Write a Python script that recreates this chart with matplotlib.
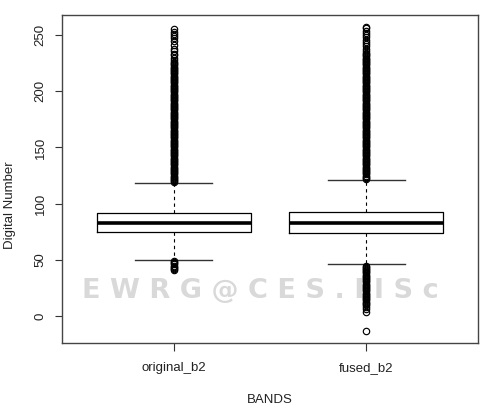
import matplotlib
matplotlib.use("Agg")
import matplotlib.pyplot as plt

categories = ["original_b2", "fused_b2"]
q1 = [74.7, 74.1]
median = [83.0, 83.0]
q3 = [92.2, 92.8]
whisker_low = [50, 46]
whisker_high = [118, 121]

orig_upper_outliers = [119, 120, 121, 122, 123, 124, 125, 126, 127, 128, 129, 130, 131, 132, 133,
                       134, 135, 136, 137, 138, 139, 140, 141, 142, 143, 144, 145, 146, 147, 148,
                       149, 150, 151, 152, 153, 154, 155, 156, 157, 158, 159, 160, 161, 162, 163,
                       164, 165, 166, 167, 168, 169, 170, 171, 172, 173, 174, 175, 176, 177, 178,
                       179, 180, 181, 182, 183, 184, 185, 186, 187, 188, 189, 190, 191, 192, 193,
                       194, 195, 196, 197, 198, 199, 200, 201, 202, 203, 204, 205, 206, 207, 208,
                       209, 210, 211, 212, 213, 214, 215, 216, 217, 218, 219, 220, 221, 222, 223,
                       224, 225, 226, 228, 230, 232, 233, 236, 238, 241, 245, 247, 249, 251, 253, 255]
orig_lower_outliers = [41, 42, 43, 44, 45, 46, 47, 48, 49]

fused_upper_outliers = [122, 123, 124, 125, 126, 127, 128, 129, 130, 131, 132, 133, 134, 135, 136,
                        137, 138, 139, 140, 141, 142, 143, 144, 145, 146, 147, 148, 149, 150, 151,
                        152, 153, 154, 155, 156, 157, 158, 159, 160, 161, 162, 163, 164, 165, 166,
                        167, 168, 169, 170, 171, 172, 173, 174, 175, 176, 177, 178, 179, 180, 181,
                        182, 183, 184, 185, 186, 187, 188, 189, 190, 191, 192, 193, 194, 195, 196,
                        197, 198, 199, 200, 201, 202, 203, 204, 205, 206, 207, 208, 209, 210, 211,
                        212, 213, 214, 215, 216, 217, 218, 219, 220, 221, 222, 223, 224, 225, 226,
                        227, 228, 229, 230, 231, 232, 233, 234, 236, 238, 240, 242, 244, 246, 248,
                        250, 252, 254, 256, 257]
fused_lower_outliers = [-13, 4, 6, 8, 10, 11, 12, 13, 14, 15, 16, 17, 18, 19, 20, 21, 22, 23, 24, 25,
                        26, 27, 28, 29, 30, 31, 32, 33, 34, 35, 36, 37, 38, 39, 40, 41, 42, 43, 44, 45]

yticks = [0, 50, 100, 150, 200, 250]
xlabel = "BANDS"
ylabel = "Digital Number"
watermark = "E W R G @ C E S . I I S c"

plt.rcParams['font.family'] = ['Liberation Sans', 'DejaVu Sans']

fig = plt.figure(figsize=(5.0, 4.11), dpi=100)
ax = fig.add_axes([0.124, 0.1655, 0.832, 0.798])

fliers = [orig_upper_outliers + orig_lower_outliers, fused_upper_outliers + fused_lower_outliers]
stats = []
for i, name in enumerate(categories):
    stats.append(dict(label=name, med=median[i], q1=q1[i], q3=q3[i],
                      whislo=whisker_low[i], whishi=whisker_high[i], fliers=fliers[i]))

ax.bxp(stats, positions=[1, 2], widths=0.8, showfliers=True,
       boxprops=dict(color='black', linewidth=0.9),
       medianprops=dict(color='black', linewidth=2.6, solid_capstyle='butt'),
       whiskerprops=dict(color='black', linewidth=0.8, linestyle=(0, (3, 3))),
       capprops=dict(color='#333333', linewidth=1.0),
       flierprops=dict(marker='o', markersize=4.6, markerfacecolor='none',
                       markeredgecolor='black', markeredgewidth=0.85, linestyle='none'),
       capwidths=0.4)

ax.set_xlim(0.42, 2.58)
ax.set_ylim(-23.8, 267.8)
ax.set_yticks(yticks)
ax.set_yticklabels([str(t) for t in yticks], rotation=90, va='center', fontsize=9.5, color='#222222')
ax.set_xticks([1, 2])
ax.set_xticklabels(categories, fontsize=9.5, color='#222222')
ax.tick_params(axis='y', length=5, width=0.8, pad=6, colors='#333333', labelcolor='#222222')
ax.tick_params(axis='x', length=5.5, width=0.8, pad=8, colors='#333333', labelcolor='#222222')
for s in ax.spines.values():
    s.set_color('#444444')
    s.set_linewidth(1.0)

fig.text(0.540, 0.027, xlabel, ha='center', va='center', fontsize=9.5, color='#222222')
fig.text(0.020, 0.5, ylabel, ha='center', va='center', rotation=90, fontsize=9.5, color='#222222')

ax.text(0.476, 0.158, watermark, transform=ax.transAxes, ha='center', va='center',
        fontsize=19.5, fontweight='bold', color='#d9d9d9', zorder=0.5,
        family='DejaVu Sans')

fig.savefig("out.png", dpi=100)
